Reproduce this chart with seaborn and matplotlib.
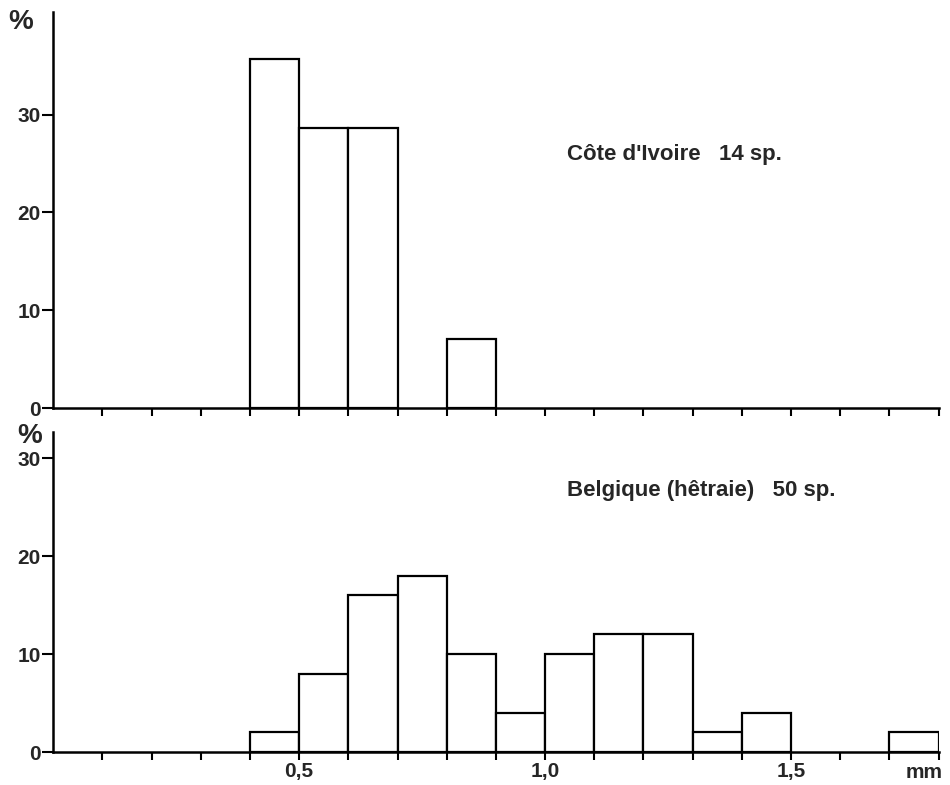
import matplotlib
matplotlib.use("Agg")
import matplotlib.pyplot as plt
import numpy as np
import seaborn as sns

# ── Data (bin left edges in mm, percentage of species) ────────────────────────
civ_left = [0.4, 0.5, 0.6, 0.8]
civ_pct = [35.7, 28.6, 28.6, 7.1]

bel_left = [0.4, 0.5, 0.6, 0.7, 0.8, 0.9, 1.0, 1.1, 1.2, 1.3, 1.4, 1.7]
bel_pct = [2, 8, 16, 18, 10, 4, 10, 12, 12, 2, 4, 2]

tick_pos = [0.1, 0.2, 0.3, 0.4, 0.5, 0.6, 0.7, 0.8, 0.9, 1.0,
            1.1, 1.2, 1.3, 1.4, 1.5, 1.6, 1.7, 1.8]
tick_lab = {0.5: "0,5", 1.0: "1,0", 1.5: "1,5"}

sns.set_theme(style="white")
plt.rcParams["font.family"] = ["Liberation Sans", "DejaVu Sans"]
plt.rcParams["font.weight"] = "bold"

fig = plt.figure(figsize=(9.5, 7.85), dpi=100)
ax_top = fig.add_axes([0.056, 0.480, 0.932, 0.505])
ax_bot = fig.add_axes([0.056, 0.042, 0.932, 0.408])

bin_w = 0.1


def draw_panel(ax, left, pct, ymax, label, lx, ly, show_labels):
    centers = [l + bin_w / 2 for l in left]
    sns.histplot(x=centers, weights=pct, binwidth=bin_w, binrange=(0.0, 1.8),
                 color="white", edgecolor="black", linewidth=1.6, alpha=1,
                 ax=ax)
    # hide empty bins
    for p in ax.patches:
        if p.get_height() == 0:
            p.set_visible(False)
    ax.set_xlim(0, 1.8)
    ax.set_ylim(0, ymax)
    ax.set_ylabel("")
    ax.set_xlabel("")
    for s in ["top", "right"]:
        ax.spines[s].set_visible(False)
    for s in ["left", "bottom"]:
        ax.spines[s].set_color("black")
        ax.spines[s].set_linewidth(1.8)
    ax.set_yticks([0, 10, 20, 30])
    ax.set_yticklabels(["0", "10", "20", "30"], fontsize=15, fontweight="bold")
    ax.tick_params(axis="y", direction="out", length=8, width=1.5,
                   color="black", pad=1, left=True)
    ax.set_xticks(tick_pos)
    if show_labels:
        ax.set_xticklabels([tick_lab.get(round(t, 1), "") for t in tick_pos],
                           fontsize=15, fontweight="bold")
    else:
        ax.set_xticklabels([])
    ax.tick_params(axis="x", direction="out", length=6, width=1.5,
                   color="black", pad=1, bottom=True)
    ax.text(lx, ly, label, fontsize=16, fontweight="bold", ha="left",
            va="center")
    ax.patch.set_alpha(0)


draw_panel(ax_top, civ_left, civ_pct, 40.5, "Côte d'Ivoire   14 sp.",
           1.045, 25.9, False)
draw_panel(ax_bot, bel_left, bel_pct, 32.7, "Belgique (hêtraie)   50 sp.",
           1.045, 26.7, True)

fig.text(0.022, 0.972, "%", fontsize=20, fontweight="bold", ha="center",
         va="center")
fig.text(0.031, 0.444, "%", fontsize=20, fontweight="bold", ha="center",
         va="center")
fig.text(0.973, 0.016, "mm", fontsize=15, fontweight="bold", ha="center",
         va="center")

fig.savefig("out.png", dpi=100, facecolor="white")
